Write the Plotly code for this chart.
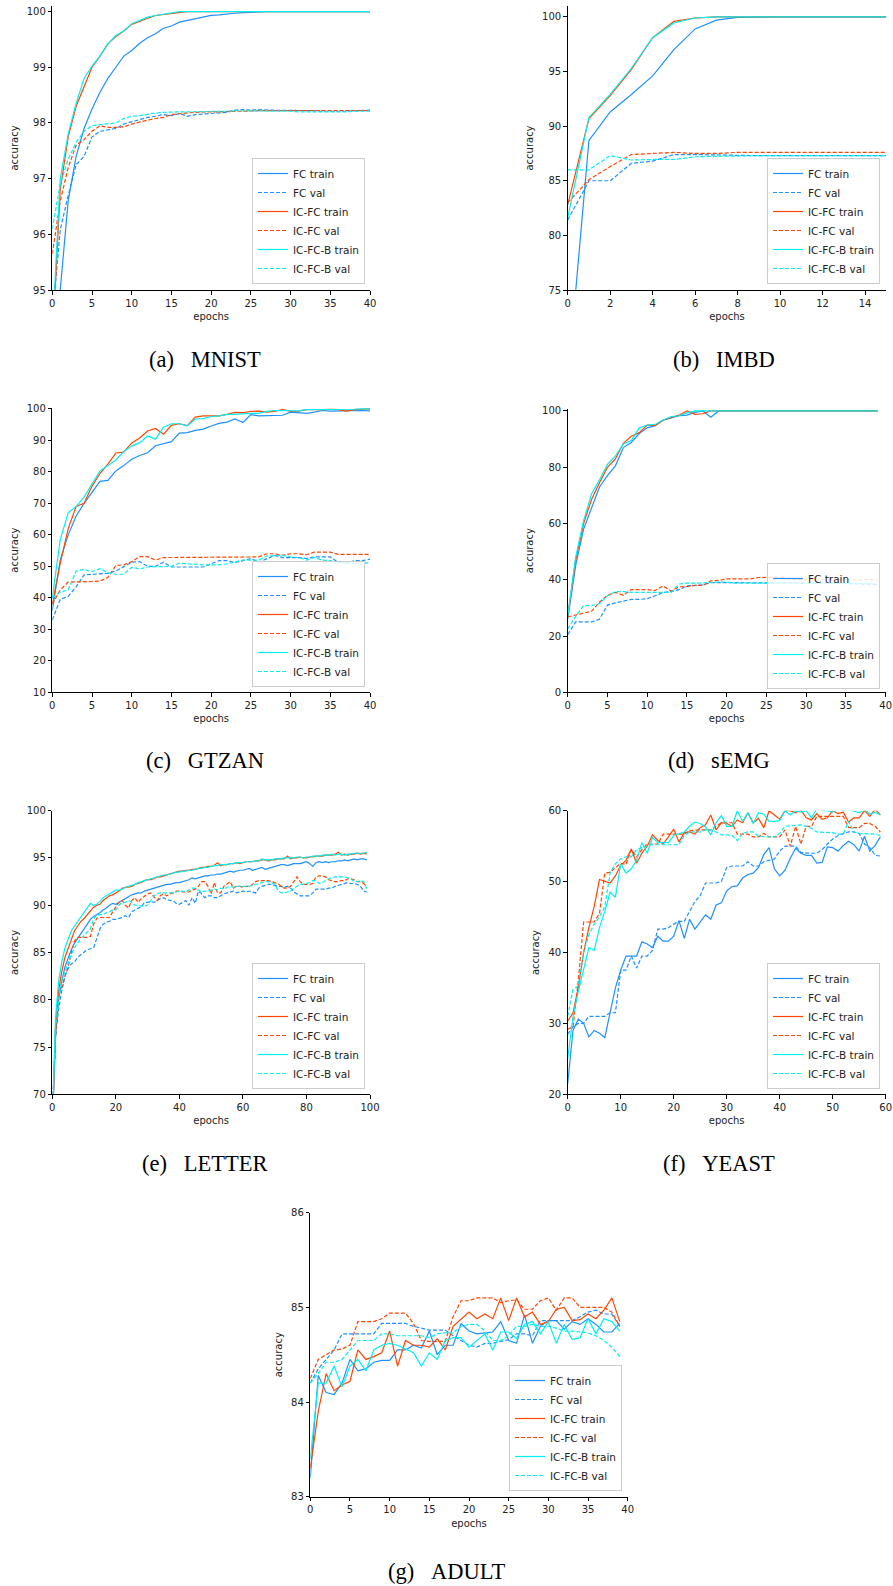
import plotly.graph_objects as go

W, H = 893, 1586

SERIES = ["FC train", "FC val", "IC-FC train", "IC-FC val", "IC-FC-B train", "IC-FC-B val"]

# ---------------- (a) MNIST ----------------
mnist_epochs = list(range(41))
mnist_fc_train = [93.0, 95.0, 96.6, 97.4, 97.9, 98.25, 98.55, 98.8, 99.0, 99.2, 99.3, 99.43, 99.53, 99.6, 99.7, 99.74,
                  99.81, 99.84, 99.88, 99.91, 99.93, 99.94, 99.96, 99.97, 99.98, 99.99, 100, 100, 100, 100, 100, 100,
                  100, 100, 100, 100, 100, 100, 100, 100, 100]
mnist_fc_val = [94.5, 96.08, 96.7, 97.25, 97.4, 97.75, 97.85, 97.88, 97.9, 97.98, 98.02, 98.05, 98.1, 98.12, 98.15,
                98.13, 98.17, 98.12, 98.15, 98.16, 98.17, 98.18, 98.19, 98.23, 98.24, 98.23, 98.24, 98.23, 98.23,
                98.22, 98.22, 98.22, 98.23, 98.22, 98.21, 98.21, 98.2, 98.21, 98.22, 98.22, 98.23]
mnist_icfc_train = [94.0, 96.8, 97.75, 98.3, 98.65, 99.0, 99.2, 99.42, 99.55, 99.65, 99.77, 99.83, 99.88, 99.93, 99.95,
                    99.97, 99.99, 100, 100, 100, 100, 100, 100, 100, 100, 100, 100, 100, 100, 100, 100, 100, 100, 100,
                    100, 100, 100, 100, 100, 100, 100]
mnist_icfc_val = [95.65, 96.6, 97.2, 97.6, 97.7, 97.85, 97.95, 97.92, 97.92, 97.93, 97.98, 98.02, 98.05, 98.08, 98.1,
                  98.15, 98.17, 98.18, 98.19, 98.2, 98.2, 98.2, 98.21, 98.21, 98.21, 98.22, 98.22, 98.22, 98.22, 98.22,
                  98.22, 98.22, 98.21, 98.21, 98.21, 98.22, 98.22, 98.22, 98.22, 98.22, 98.22]
mnist_icfcb_train = [94.2, 97.0, 97.8, 98.35, 98.8, 99.02, 99.2, 99.42, 99.57, 99.65, 99.78, 99.84, 99.9, 99.93, 99.95,
                     99.97, 100, 100, 100, 100, 100, 100, 100, 100, 100, 100, 100, 100, 100, 100, 100, 100, 100, 100,
                     100, 100, 100, 100, 100, 100, 100]
mnist_icfcb_val = [96.1, 96.9, 97.35, 97.65, 97.85, 97.95, 97.97, 97.98, 98.0, 98.08, 98.12, 98.13, 98.16, 98.18, 98.19,
                   98.2, 98.2, 98.2, 98.2, 98.21, 98.21, 98.2, 98.21, 98.22, 98.22, 98.22, 98.22, 98.21, 98.21, 98.21,
                   98.21, 98.2, 98.2, 98.2, 98.19, 98.19, 98.19, 98.2, 98.21, 98.21, 98.21]

# ---------------- (b) IMBD ----------------
imdb_epochs = list(range(16))
imdb_fc_train = [66.6, 88.7, 91.3, 92.9, 94.6, 97.0, 98.9, 99.7, 99.95, 100, 100, 100, 100, 100, 100, 100]
imdb_fc_val = [81.4, 85.0, 85.0, 86.6, 86.8, 87.4, 87.4, 87.35, 87.3, 87.3, 87.3, 87.3, 87.3, 87.3, 87.3, 87.3]
imdb_icfc_train = [82.8, 90.7, 92.8, 95.2, 98.1, 99.6, 99.9, 100, 100, 100, 100, 100, 100, 100, 100, 100]
imdb_icfc_val = [83.0, 85.1, 86.3, 87.4, 87.5, 87.6, 87.5, 87.5, 87.6, 87.6, 87.6, 87.6, 87.6, 87.6, 87.6, 87.6]
imdb_icfcb_train = [81.6, 90.8, 92.9, 95.3, 98.1, 99.45, 99.9, 100, 100, 100, 100, 100, 100, 100, 100, 100]
imdb_icfcb_val = [86.0, 86.0, 87.3, 86.9, 86.95, 86.95, 87.2, 87.25, 87.3, 87.3, 87.3, 87.3, 87.3, 87.3, 87.3, 87.3]

# ---------------- (c) GTZAN ----------------
gtzan_epochs = list(range(41))
gtzan_fc_train = [36, 52, 60, 66, 70, 73.5, 77, 77.3, 80.3, 82, 84, 85.2, 86.1, 88.3, 89, 89.6, 92.3, 92.5, 93.2, 93.6,
                  94.6, 95.4, 95.8, 96.8, 95.7, 98.2, 97.8, 97.9, 98.1, 98.0, 99.0, 98.9, 98.6, 99.0, 99.5, 99.3, 99.4,
                  99.5, 99.6, 99.5, 99.4]
gtzan_fc_val = [33, 39.5, 40.5, 43.5, 47.3, 47.5, 47.6, 47.8, 48.5, 50, 51.3, 51.5, 50.0, 50.0, 51.3, 49.8, 49.8, 49.8,
                49.8, 49.8, 50.8, 51.8, 51.8, 51.2, 51.8, 52.5, 51.3, 52.3, 53.5, 52.8, 52.8, 52.8, 52.5, 53.0, 53.0,
                53.0, 51.3, 51.0, 51.8, 51.8, 52.3]
gtzan_icfc_train = [38, 51, 62, 69, 70, 75.5, 79.5, 82.5, 86, 86.3, 89.2, 90.8, 93.0, 93.8, 92.0, 94.8, 95.3, 94.7,
                    97.4, 97.8, 97.8, 97.8, 98.3, 98.9, 98.8, 99.2, 99.3, 99.0, 99.2, 99.9, 99.2, 99.3, 99.8, 99.7,
                    99.8, 99.9, 99.8, 99.3, 99.8, 99.9, 100]
gtzan_icfc_val = [38, 42.5, 45, 45, 45, 45.2, 45.3, 46.5, 50.3, 50.5, 51.5, 53.1, 53.1, 52.0, 52.8, 52.8, 52.8, 52.8,
                  52.8, 52.8, 52.8, 52.8, 52.8, 52.8, 53.0, 53.0, 53.0, 54.0, 54.0, 53.5, 54.0, 54.0, 53.7, 54.5, 54.5,
                  54.5, 53.8, 53.8, 53.8, 53.8, 53.8]
gtzan_icfcb_train = [40, 58.5, 67, 69, 72, 76, 80.3, 82, 83.8, 86.5, 88.2, 89.3, 91.4, 90.4, 94.2, 95.3, 95.3, 94.6,
                     96.8, 96.9, 97.6, 97.8, 98.3, 98.3, 98.5, 98.6, 98.6, 99.2, 99.5, 99.4, 99.3, 99.4, 99.8, 99.8,
                     99.9, 99.9, 99.9, 99.7, 99.9, 100, 100]
gtzan_icfcb_val = [40, 41.8, 42.5, 48.5, 49, 48.3, 49.3, 48, 47.5, 47.5, 49.7, 49.2, 49.8, 49.8, 49.8, 50, 51, 50.8,
                   50.6, 50.5, 50.5, 50.5, 50.8, 51.5, 52, 52, 52, 53.3, 53.3, 53.5, 53.0, 52.8, 52.0, 52.8, 52.0, 51.8,
                   51.2, 51.3, 50.8, 50.8, 51.3]

# ---------------- (d) sEMG ----------------
semg_epochs = list(range(40))
semg_fc_train = [26, 45, 58, 65.5, 73, 77, 80.5, 87, 88.8, 92, 94, 94.8, 96.7, 97.5, 98.3, 98.5, 99.5, 100, 97.8, 100,
                 100, 100, 100, 100, 100, 100, 100, 100, 100, 100, 100, 100, 100, 100, 100, 100, 100, 100, 100, 100]
semg_fc_val = [20.5, 25, 25, 25, 26, 31, 31.8, 32.3, 33, 33, 33.3, 34.3, 35.5, 35.8, 36.5, 37.8, 38, 38.2, 39, 39, 39,
               38.9, 38.8, 38.8, 38.8, 38.8, 38.8, 38.8, 38.8, 38.8, 38.8, 38.8, 38.8, 38.8, 38.7, 38.6, 38.6, 38.5,
               38.4, 38.3]
semg_icfc_train = [27, 47, 60, 68.5, 74.5, 80, 83, 88.5, 91, 92.3, 95, 94.8, 96.7, 97.5, 98.5, 100, 98.8, 99, 100, 100,
                   100, 100, 100, 100, 100, 100, 100, 100, 100, 100, 100, 100, 100, 100, 100, 100, 100, 100, 100, 100]
semg_icfc_val = [26.8, 27.5, 28.3, 28.8, 32, 34.5, 35.5, 34.5, 36.5, 36.5, 36.5, 36.2, 37.8, 36.0, 37.5, 37.6, 38, 38,
                 39.6, 39.8, 40.3, 40.3, 40.3, 40.3, 40.8, 40.9, 40.9, 40.9, 40.3, 40.1, 40.0, 40.0, 40.0, 40.0, 40.0,
                 40.0, 40.0, 40.0, 40.0, 40.0]
semg_icfcb_train = [27, 48, 61, 70.5, 75.5, 81, 84, 88.3, 89.5, 94, 95, 95.2, 96.8, 98, 98.3, 99.3, 100, 100, 100, 100,
                    100, 100, 100, 100, 100, 100, 100, 100, 100, 100, 100, 100, 100, 100, 100, 100, 100, 100, 100, 100]
semg_icfcb_val = [22.5, 27, 30.8, 30.8, 31.5, 34.3, 35.8, 35.8, 35.5, 35.5, 35.3, 35.3, 35.5, 35.5, 38.5, 38.8, 38.8,
                  39, 39, 39.2, 39.2, 38.8, 38.8, 38.8, 38.8, 38.8, 38.8, 38.8, 38.8, 38.8, 38.8, 38.8, 38.8, 38.9,
                  38.9, 38.8, 38.7, 38.7, 38.6, 38.6]

# ---------------- (e) LETTER ----------------
letter_epochs = list(range(100))
letter_fc_train = [66.0, 76.0, 80.0, 82.0, 83.5, 84.5, 85.3, 86.0, 86.5, 87.0,
                   87.5, 88.0, 88.5, 88.8, 89.0, 89.2, 89.5, 89.7, 90.0, 90.2,
                   90.1, 90.3, 90.5, 90.7, 90.9, 91.1, 91.2, 91.3, 91.3, 91.5,
                   91.6, 91.7, 91.8, 91.9, 92.0, 92.1, 92.2, 92.2, 92.3, 92.4,
                   92.4, 92.5, 92.6, 92.7, 92.9, 92.8, 92.9, 93.0, 93.1, 93.1,
                   93.2, 93.2, 93.3, 93.3, 93.4, 93.5, 93.6, 93.5, 93.6, 93.7,
                   93.7, 93.8, 93.9, 93.7, 93.8, 93.9, 94.0, 93.8, 93.9, 94.0,
                   94.1, 94.2, 94.3, 94.3, 94.2, 94.3, 94.4, 94.4, 94.4, 94.5,
                   94.6, 94.4, 94.1, 94.5, 94.6, 94.5, 94.6, 94.5, 94.6, 94.6,
                   94.7, 94.7, 94.8, 94.7, 94.8, 94.9, 94.8, 94.9, 94.9, 94.8]
letter_fc_val = [68.0, 76.0, 79.0, 81.0, 82.5, 83.3, 83.8, 84.0, 84.5, 84.8,
                 85.0, 85.3, 85.4, 85.5, 86.5, 87.5, 88.0, 88.2, 88.3, 88.5,
                 88.5, 88.6, 88.7, 88.9, 88.7, 89.3, 89.5, 89.7, 89.8, 90.3,
                 90.3, 90.4, 90.3, 90.5, 90.7, 90.8, 90.6, 90.5, 90.5, 90.2,
                 90.1, 90.3, 90.5, 90.0, 90.8, 90.2, 91.5, 91.2, 90.8, 91.0,
                 91.0, 90.8, 90.8, 91.0, 91.2, 91.3, 91.4, 91.5, 91.3, 91.4,
                 91.5, 91.4, 91.5, 91.4, 91.3, 91.8, 92.0, 92.1, 92.2, 92.2,
                 92.1, 92.0, 92.0, 91.9, 92.0, 91.8, 91.4, 91.2, 91.0, 91.0,
                 91.0, 91.0, 91.3, 91.7, 91.7, 91.7, 91.7, 91.8, 91.8, 92.0,
                 92.1, 92.2, 92.3, 92.4, 92.3, 92.3, 92.2, 92.0, 91.5, 91.4]
letter_icfc_train = [66.0, 77.0, 81.0, 83.0, 84.5, 85.5, 86.5, 87.3, 87.8, 88.3,
                     88.6, 89.0, 89.4, 89.8, 90.0, 90.1, 90.5, 90.8, 91.0, 91.1,
                     91.3, 91.5, 91.8, 91.9, 91.9, 92.0, 92.2, 92.3, 92.4, 92.6,
                     92.7, 92.7, 92.8, 93.0, 93.0, 93.1, 93.2, 93.3, 93.4, 93.5,
                     93.6, 93.6, 93.7, 93.7, 93.8, 93.8, 93.9, 94.0, 94.0, 94.1,
                     94.1, 94.2, 94.5, 94.2, 94.3, 94.3, 94.4, 94.4, 94.5, 94.4,
                     94.5, 94.6, 94.6, 94.6, 94.7, 94.7, 94.8, 94.8, 94.7, 94.8,
                     94.8, 94.9, 94.9, 94.9, 95.2, 94.9, 95.0, 95.0, 95.1, 95.0,
                     95.0, 95.1, 95.1, 95.2, 95.2, 95.2, 95.3, 95.3, 95.3, 95.4,
                     95.6, 95.3, 95.4, 95.3, 95.4, 95.4, 95.5, 95.4, 95.5, 95.4]
letter_icfc_val = [68.0, 76.0, 81.0, 81.3, 82.5, 83.5, 85.0, 86.2, 86.6, 86.6,
                   86.6, 86.6, 86.7, 88.0, 88.6, 88.7, 88.7, 88.7, 88.7, 89.3,
                   89.8, 90.3, 90.5, 90.0, 89.7, 90.5, 90.8, 90.3, 90.7, 91.0,
                   91.2, 91.3, 90.9, 90.5, 91.0, 91.2, 91.0, 91.2, 91.3, 91.5,
                   91.5, 91.4, 91.4, 91.4, 91.6, 91.7, 92.0, 92.5, 92.5, 92.0,
                   91.2, 92.4, 91.3, 91.3, 92.0, 92.3, 92.5, 91.8, 92.0, 92.0,
                   91.9, 92.0, 92.0, 92.2, 92.5, 92.6, 92.6, 92.6, 92.6, 92.5,
                   92.4, 92.3, 92.0, 91.8, 91.8, 92.0, 92.5, 93.0, 92.5, 92.2,
                   92.2, 92.2, 92.3, 93.0, 93.1, 93.1, 93.0, 92.7, 92.6, 92.5,
                   92.5, 92.6, 92.6, 92.8, 92.8, 92.7, 92.5, 92.5, 92.3, 92.0]
letter_icfcb_train = [66.0, 78.0, 82.0, 84.0, 85.5, 86.5, 87.3, 87.8, 88.3, 88.8,
                      89.2, 89.7, 90.2, 90.0, 90.1, 90.4, 90.8, 91.0, 91.2, 91.4,
                      91.6, 91.6, 91.7, 91.9, 92.0, 92.1, 92.2, 92.4, 92.5, 92.6,
                      92.7, 92.8, 92.9, 93.0, 93.1, 93.2, 93.2, 93.3, 93.4, 93.5,
                      93.5, 93.6, 93.6, 93.7, 93.7, 93.8, 93.9, 93.9, 94.0, 94.0,
                      94.1, 94.2, 94.2, 94.3, 94.3, 94.3, 94.4, 94.4, 94.5, 94.5,
                      94.5, 94.6, 94.6, 94.6, 94.7, 94.7, 94.9, 94.8, 94.8, 94.8,
                      94.9, 94.9, 94.9, 95.0, 95.0, 95.0, 95.0, 95.1, 95.1, 95.0,
                      95.1, 95.1, 95.2, 95.2, 95.2, 95.3, 95.3, 95.3, 95.4, 95.3,
                      95.4, 95.4, 95.3, 95.4, 95.4, 95.5, 95.5, 95.5, 95.5, 95.6]
letter_icfcb_val = [68.0, 77.0, 80.0, 82.0, 83.0, 84.0, 84.8, 85.5, 86.0, 86.5,
                    86.8, 87.2, 87.5, 88.5, 89.0, 89.0, 89.0, 89.2, 89.3, 89.5,
                    89.5, 90.0, 90.3, 90.3, 90.5, 90.3, 90.0, 90.0, 89.9, 89.9,
                    90.0, 90.5, 91.0, 91.2, 91.3, 91.3, 91.3, 91.3, 91.3, 91.4,
                    91.5, 91.5, 91.4, 91.6, 91.8, 91.8, 91.6, 91.4, 91.5, 91.5,
                    91.6, 91.7, 91.6, 91.8, 91.7, 91.9, 92.0, 91.9, 92.0, 92.0,
                    92.0, 92.0, 92.0, 92.1, 92.2, 92.3, 92.4, 92.5, 92.5, 92.4,
                    92.2, 91.6, 91.3, 91.3, 91.4, 91.5, 91.8, 92.0, 92.2, 92.2,
                    92.3, 92.4, 92.6, 92.6, 92.3, 92.4, 92.6, 92.8, 92.9, 93.0,
                    93.0, 93.0, 93.0, 92.9, 92.8, 92.5, 92.5, 92.6, 92.5, 91.7]

# ---------------- (f) YEAST ----------------
yeast_epochs = list(range(60))
yeast_fc_train = [21.5, 29.0, 30.6, 30.0, 28.1, 29.0, 28.6, 28.0, 31.5, 35.0,
                  37.5, 39.5, 39.5, 39.5, 41.5, 41.2, 40.7, 42.3, 41.6, 41.6,
                  42.3, 44.5, 42.0, 44.7, 43.3, 44.3, 45.3, 44.7, 46.7, 47.0,
                  48.7, 49.3, 49.4, 50.5, 51.0, 51.2, 52.0, 53.8, 54.8, 51.8,
                  50.8, 51.6, 53.3, 54.7, 54.0, 53.7, 53.7, 52.6, 52.7, 54.9,
                  54.8, 54.3, 55.1, 55.7, 55.2, 54.3, 56.4, 54.3, 55.1, 56.3]
yeast_fc_val = [28.5, 29.5, 30.0, 30.0, 31.0, 31.0, 31.0, 31.0, 31.5, 31.5,
                37.5, 37.5, 39.5, 37.8, 39.5, 39.5, 40.3, 43.3, 43.3, 43.5,
                44.0, 44.4, 44.4, 45.8, 47.2, 48.0, 49.8, 49.8, 49.8, 50.0,
                52.0, 52.2, 52.2, 52.2, 52.8, 52.2, 52.2, 52.8, 53.0, 53.2,
                54.3, 55.0, 55.0, 55.0, 54.1, 54.0, 54.0, 54.0, 54.5, 55.3,
                56.0, 56.5, 56.7, 57.0, 57.0, 56.8, 55.3, 54.8, 53.7, 53.6]
yeast_icfc_train = [30.3, 31.5, 35.0, 40.0, 43.5, 46.5, 50.3, 50.0, 49.8, 50.8,
                    52.3, 53.0, 54.6, 52.6, 54.0, 55.0, 56.6, 55.8, 55.3, 56.3,
                    57.4, 55.6, 56.9, 57.0, 56.7, 57.6, 58.0, 59.4, 57.3, 58.3,
                    58.2, 57.8, 58.7, 58.3, 59.7, 58.3, 58.9, 57.6, 60.0, 59.4,
                    58.8, 60.0, 60.0, 59.7, 60.1, 59.0, 58.7, 59.6, 58.8, 59.0,
                    60.0, 59.6, 59.8, 58.4, 59.0, 59.0, 60.0, 59.2, 60.2, 59.4]
yeast_icfc_val = [29.2, 29.5, 36.0, 44.3, 44.3, 44.3, 45.5, 51.2, 51.3, 52.0,
                  52.6, 52.4, 54.5, 53.5, 54.5, 55.3, 55.3, 55.3, 56.7, 56.7,
                  56.7, 56.7, 56.7, 57.2, 57.3, 57.3, 57.3, 57.3, 57.8, 58.3,
                  58.3, 58.3, 56.7, 56.7, 56.7, 56.3, 56.3, 56.8, 56.3, 56.3,
                  56.3, 57.3, 55.0, 57.8, 55.3, 57.8, 57.8, 59.2, 59.2, 59.2,
                  59.2, 59.2, 59.2, 57.6, 57.6, 57.6, 58.2, 58.2, 57.8, 57.0]
yeast_icfcb_train = [25.0, 31.0, 34.5, 37.5, 40.7, 40.3, 43.5, 45.8, 48.5, 47.8,
                     52.5, 51.2, 51.8, 53.0, 55.5, 54.0, 56.2, 55.5, 55.5, 55.5,
                     56.5, 56.8, 57.0, 57.8, 58.4, 58.2, 57.7, 56.6, 58.3, 59.3,
                     57.8, 57.8, 60.0, 58.5, 59.7, 58.2, 59.7, 59.5, 58.5, 58.5,
                     58.6, 60.0, 59.4, 60.0, 59.8, 60.0, 59.0, 60.3, 60.0, 60.0,
                     59.8, 60.3, 60.0, 60.2, 60.0, 59.7, 60.2, 59.5, 59.8, 59.4]
yeast_icfcb_val = [31.0, 34.8, 35.3, 40.0, 42.5, 44.0, 45.0, 46.5, 51.2, 52.5,
                   53.2, 53.5, 53.5, 54.5, 54.8, 55.0, 55.2, 55.2, 55.2, 55.2,
                   55.2, 55.2, 56.5, 57.0, 57.0, 57.0, 57.3, 57.3, 57.0, 56.6,
                   56.6, 56.5, 55.8, 56.8, 57.0, 57.0, 56.4, 56.3, 56.3, 56.3,
                   56.8, 57.8, 57.9, 58.0, 58.0, 57.8, 57.5, 57.0, 57.0, 57.0,
                   56.9, 56.7, 56.7, 58.5, 57.0, 56.8, 56.8, 56.7, 56.7, 56.5]

# ---------------- (g) ADULT ----------------
adult_epochs = list(range(40))
adult_fc_train = [83.2, 84.28, 84.1, 84.08, 84.2, 84.45, 84.33, 84.35, 84.42, 84.44,
                  84.44, 84.55, 84.55, 84.6, 84.57, 84.75, 84.5, 84.6, 84.6, 84.83,
                  84.75, 84.72, 84.73, 84.74, 84.85, 84.65, 84.62, 84.92, 84.62, 84.8,
                  84.86, 84.86, 84.77, 84.85, 84.82, 84.88, 84.82, 84.74, 84.74, 84.83]
adult_fc_val = [84.2, 84.35, 84.45, 84.55, 84.72, 84.72, 84.72, 84.72, 84.72, 84.83,
                84.83, 84.83, 84.83, 84.8, 84.78, 84.76, 84.76, 84.76, 84.7, 84.65,
                84.6, 84.58, 84.62, 84.62, 84.64, 84.66, 84.72, 84.72, 84.7, 84.86,
                84.86, 84.86, 84.86, 84.86, 84.9, 84.95, 84.97, 84.93, 84.93, 84.8]
adult_icfc_train = [83.3, 83.9, 84.3, 84.12, 84.18, 84.22, 84.55, 84.45, 84.48, 84.52,
                    84.75, 84.38, 84.65, 84.6, 84.6, 84.58, 84.67, 84.55, 84.8, 84.88,
                    84.95, 84.88, 84.93, 84.88, 85.1, 84.86, 85.1, 84.9, 84.95, 84.82,
                    84.85, 84.98, 85.0, 84.86, 84.87, 84.93, 84.88, 84.97, 85.1, 84.85]
adult_icfc_val = [84.25, 84.45, 84.5, 84.55, 84.56, 84.6, 84.85, 84.85, 84.85, 84.88,
                  84.94, 84.94, 84.94, 84.83, 84.65, 84.64, 84.64, 84.64, 84.9, 85.07,
                  85.07, 85.1, 85.1, 85.1, 85.05, 85.07, 85.08, 84.98, 84.98, 85.07,
                  85.1, 84.97, 85.1, 85.1, 85.0, 85.0, 85.0, 85.0, 84.95, 84.8]
adult_icfcb_train = [83.4, 84.2, 84.2, 84.38, 84.16, 84.38, 84.45, 84.33, 84.55, 84.6,
                     84.62, 84.6, 84.56, 84.52, 84.38, 84.52, 84.45, 84.65, 84.68, 84.68,
                     84.58, 84.65, 84.72, 84.55, 84.74, 84.74, 84.67, 84.82, 84.85, 84.72,
                     84.85, 84.62, 84.82, 84.66, 84.68, 84.88, 84.72, 84.88, 84.85, 84.75]
adult_icfcb_val = [84.2, 84.3, 84.42, 84.42, 84.45, 84.55, 84.65, 84.65, 84.65, 84.72,
                   84.72, 84.7, 84.7, 84.7, 84.7, 84.68, 84.72, 84.73, 84.73, 84.8,
                   84.82, 84.82, 84.75, 84.65, 84.65, 84.7, 84.8, 84.8, 84.82, 84.8,
                   84.8, 84.78, 84.75, 84.75, 84.74, 84.73, 84.7, 84.65, 84.58, 84.48]

# ---------------- styling ----------------
COLORS = ["#1E90FF", "#1E90FF", "#FF4500", "#FF4500", "#00F0F0", "#00F0F0"]
DASHES = ["solid", "4px,2px", "solid", "4px,2px", "solid", "4px,2px"]
TICK_FONT = dict(family="DejaVu Sans", size=10, color="#222222")
CAP_FONT = dict(family="Liberation Serif", size=22.5, color="#000000")
GAP = "\u00a0\u00a0\u00a0"

panels = [
    dict(cap="(a)" + GAP + "MNIST", ep=mnist_epochs,
         ys=[mnist_fc_train, mnist_fc_val, mnist_icfc_train, mnist_icfc_val, mnist_icfcb_train, mnist_icfcb_val],
         xr=[0, 40], yr=[95, 100.1], xd=5, yd=1, y0=95,
         box=(52.3, 6, 370, 290), leg=(365, 284), capxy=(205, 359)),
    dict(cap="(b)" + GAP + "IMBD", ep=imdb_epochs,
         ys=[imdb_fc_train, imdb_fc_val, imdb_icfc_train, imdb_icfc_val, imdb_icfcb_train, imdb_icfcb_val],
         xr=[0, 15], yr=[75, 101], xd=2, yd=5, y0=75,
         box=(567.7, 6, 886.3, 290), leg=(880, 284), capxy=(724, 359)),
    dict(cap="(c)" + GAP + "GTZAN", ep=gtzan_epochs,
         ys=[gtzan_fc_train, gtzan_fc_val, gtzan_icfc_train, gtzan_icfc_val, gtzan_icfcb_train, gtzan_icfcb_val],
         xr=[0, 40], yr=[10, 100.3], xd=5, yd=10, y0=10,
         box=(52.3, 408, 370, 692.3), leg=(365, 687), capxy=(205, 760)),
    dict(cap="(d)" + GAP + "sEMG", ep=semg_epochs,
         ys=[semg_fc_train, semg_fc_val, semg_icfc_train, semg_icfc_val, semg_icfcb_train, semg_icfcb_val],
         xr=[0, 40], yr=[0, 100.7], xd=5, yd=20, y0=0,
         box=(567.7, 409, 885.7, 692.3), leg=(880, 689), capxy=(719, 760)),
    dict(cap="(e)" + GAP + "LETTER", ep=letter_epochs,
         ys=[letter_fc_train, letter_fc_val, letter_icfc_train, letter_icfc_val, letter_icfcb_train, letter_icfcb_val],
         xr=[0, 100], yr=[70, 100], xd=20, yd=5, y0=70,
         box=(52.3, 810.7, 370, 1094.3), leg=(365, 1089), capxy=(205, 1163)),
    dict(cap="(f)" + GAP + "YEAST", ep=yeast_epochs,
         ys=[yeast_fc_train, yeast_fc_val, yeast_icfc_train, yeast_icfc_val, yeast_icfcb_train, yeast_icfcb_val],
         xr=[0, 60], yr=[20, 60], xd=10, yd=10, y0=20,
         box=(567.7, 810.7, 885.7, 1094.3), leg=(880, 1089), capxy=(719, 1163)),
    dict(cap="(g)" + GAP + "ADULT", ep=adult_epochs,
         ys=[adult_fc_train, adult_fc_val, adult_icfc_train, adult_icfc_val, adult_icfcb_train, adult_icfcb_val],
         xr=[0, 40], yr=[83, 86], xd=5, yd=1, y0=83,
         box=(310.3, 1212.7, 627.7, 1496.7), leg=(622, 1491), capxy=(447, 1571)),
]

fig = go.Figure()
layout = dict(
    width=W, height=H, margin=dict(l=0, r=0, t=0, b=0),
    paper_bgcolor="white", plot_bgcolor="white", template="none",
    font=dict(family="DejaVu Sans", size=10, color="#222222"),
    annotations=[],
)

for k, p in enumerate(panels, start=1):
    sfx = "" if k == 1 else str(k)
    leg_name = "legend" + sfx
    for i in range(6):
        fig.add_trace(go.Scatter(
            x=p["ep"], y=p["ys"][i], name=SERIES[i], mode="lines",
            line=dict(color=COLORS[i], width=1.2, dash=DASHES[i]),
            xaxis="x" + sfx, yaxis="y" + sfx, legend=leg_name, showlegend=True,
        ))
    x0, t, x1, b = p["box"]
    axis_common = dict(showline=True, linecolor="#000000", linewidth=1, ticks="outside", ticklen=3.5,
                       tickwidth=1, tickcolor="#000000", showgrid=False, zeroline=False, mirror=False,
                       tickfont=TICK_FONT, automargin=False)
    layout["xaxis" + sfx] = dict(axis_common, domain=[x0 / W, x1 / W], range=p["xr"], anchor="y" + sfx,
                                 tick0=0, dtick=p["xd"],
                                 title=dict(text="epochs", font=TICK_FONT, standoff=5))
    layout["yaxis" + sfx] = dict(axis_common, domain=[1 - b / H, 1 - t / H], range=p["yr"], anchor="x" + sfx,
                                 tick0=p["y0"], dtick=p["yd"],
                                 title=dict(text="accuracy", font=TICK_FONT, standoff=6))
    lx, ly = p["leg"]
    layout[leg_name] = dict(x=lx / W, y=1 - ly / H, xanchor="right", yanchor="bottom",
                            bgcolor="rgba(255,255,255,0.8)", bordercolor="#cccccc", borderwidth=1,
                            font=dict(family="DejaVu Sans", size=10.5, color="#222222"),
                            traceorder="normal")
    cx, cy = p["capxy"]
    layout["annotations"].append(dict(text=p["cap"], x=cx / W, y=1 - cy / H, xref="paper", yref="paper",
                                      xanchor="center", yanchor="middle", showarrow=False, font=CAP_FONT))

fig.update_layout(**layout)
fig.write_html("out.html")
